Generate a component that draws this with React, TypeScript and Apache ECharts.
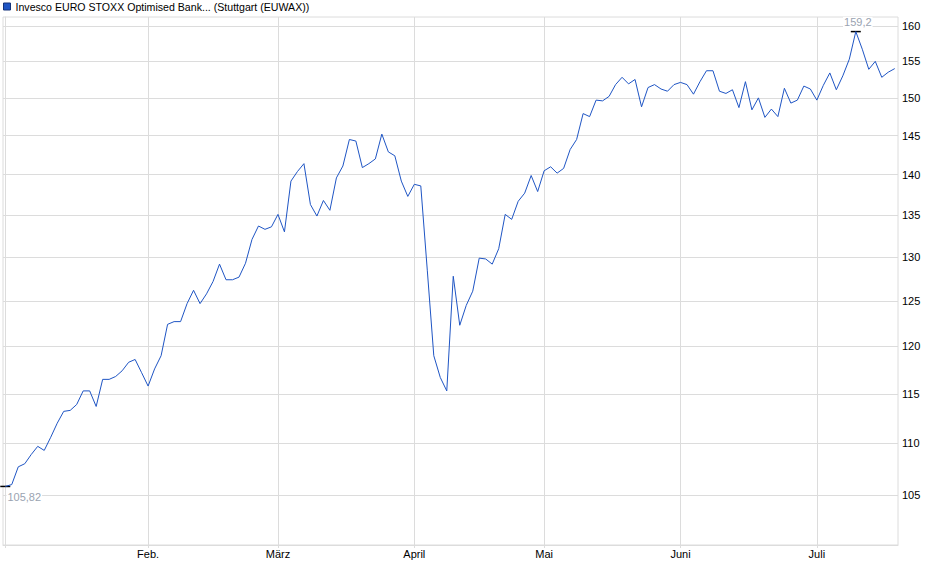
import { useEffect, useRef } from 'react'
import * as echarts from 'echarts'

// Daily closing prices per month (trading days)
const janValues = [105.82, 106.0, 107.7, 108.0, 108.9, 109.7, 109.3, 110.6, 112.0, 113.2, 113.3, 113.9, 115.3, 115.3, 113.7, 116.5, 116.5, 116.8, 117.4, 118.3, 118.6, 117.2]
const febValues = [115.8, 117.6, 119.0, 122.4, 122.7, 122.7, 124.7, 126.2, 124.7, 125.8, 127.2, 129.2, 127.4, 127.4, 127.7, 129.3, 132.1, 133.7, 133.3, 133.6]
const marValues = [135.1, 133.0, 139.2, 140.4, 141.4, 136.3, 134.9, 136.8, 135.6, 139.6, 141.1, 144.5, 144.3, 140.9, 141.4, 142.0, 145.2, 142.9, 142.4, 139.2, 137.3]
const aprValues = [138.8, 138.6, 128.5, 119.0, 116.7, 115.3, 127.8, 122.3, 124.5, 126.1, 129.9, 129.8, 129.2, 131.0, 135.1, 134.5, 136.7, 137.7, 139.9, 137.9]
const mayValues = [140.5, 141.0, 140.2, 140.8, 143.2, 144.5, 147.9, 147.5, 149.7, 149.6, 150.2, 151.8, 152.8, 151.9, 152.5, 148.8, 151.4, 151.8, 151.2, 150.9, 151.8]
const junValues = [152.1, 151.8, 150.5, 152.2, 153.7, 153.7, 150.9, 150.6, 151.1, 148.7, 152.2, 148.4, 150.0, 147.4, 148.5, 147.5, 151.3, 149.3, 149.7, 151.6, 151.2]
const julValues = [149.7, 151.7, 153.4, 151.1, 153.0, 155.3, 159.2, 156.7, 153.9, 155.0, 152.8, 153.5, 154.0]

const months = [janValues, febValues, marValues, aprValues, mayValues, junValues, julValues]
const monthNames = ['Jan.', 'Feb.', 'März', 'April', 'Mai', 'Juni', 'Juli']
const yTicks = [105, 110, 115, 120, 125, 130, 135, 140, 145, 150, 155, 160]

const seriesName = 'Invesco EURO STOXX Optimised Bank... (Stuttgart (EUWAX))'
const FONT = "'Liberation Sans', Arial, sans-serif"
const GRID = '#dcdcdc'

export default function App() {
  const ref = useRef<HTMLDivElement>(null)

  useEffect(() => {
    if (!ref.current) return
    const chart = echarts.init(ref.current, undefined, { renderer: 'svg' })

    const values = months.flat()
    const monthStarts: number[] = []
    let n = 0
    for (const m of months) { monthStarts.push(n); n += m.length }
    const data = values.map((v, i) => [i, v])
    const fmt = (v: number) => String(v).replace('.', ',')

    chart.setOption({
      animation: false,
      textStyle: { fontFamily: FONT },
      legend: {
        data: [seriesName],
        left: 3, top: 0, padding: 0,
        icon: 'rect', itemWidth: 7, itemHeight: 7,
        itemStyle: { borderColor: '#14337a', borderWidth: 1 },
        textStyle: { fontSize: 10.6, color: '#000', fontFamily: FONT, lineHeight: 13 },
        selectedMode: false,
      },
      grid: {
        left: 3, right: 42, top: 17, bottom: 34,
        show: true, borderColor: GRID, borderWidth: 1,
      },
      xAxis: {
        type: 'value',
        min: -0.35, max: values.length - 0.5,
        axisLine: { show: true, lineStyle: { color: GRID } },
        axisTick: { show: true, length: 3, lineStyle: { color: GRID }, customValues: monthStarts },
        axisLabel: {
          customValues: monthStarts.slice(1),
          formatter: (v: number) => monthNames[monthStarts.indexOf(v)] ?? '',
          color: '#000', fontSize: 11, margin: 3, fontFamily: FONT,
        },
        splitLine: { show: true, lineStyle: { color: GRID, width: 1 } },
      },
      yAxis: {
        type: 'log',
        position: 'right',
        min: 100.4, max: 161.3,
        axisLine: { show: true, lineStyle: { color: GRID } },
        axisTick: { show: false },
        axisLabel: { show: false },
        splitLine: { show: false },
      },
      series: [
        {
          type: 'line',
          name: 'grid',
          data,
          showSymbol: false,
          silent: true,
          lineStyle: { opacity: 0 },
          markLine: {
            silent: true,
            symbol: ['none', 'none'],
            lineStyle: { color: GRID, type: 'solid', width: 1 },
            label: { show: true, position: 'end', distance: 4, color: '#000', fontSize: 11, fontFamily: FONT },
            data: yTicks.map(v => ({ yAxis: v, label: { formatter: String(v) } })),
          },
        },
        {
          type: 'line',
          name: seriesName,
          data,
          z: 10,
          showSymbol: false,
          color: '#1f55c4',
          lineStyle: { color: '#1f55c4', width: 1 },
          markPoint: {
            symbol: 'rect',
            symbolSize: [10, 1.5],
            itemStyle: { color: '#000' },
            data: [
              {
                type: 'max', valueDim: 'y',
                label: {
                  position: 'top', distance: 3, offset: [2, 0],
                  formatter: (p: { value: number }) => fmt(p.value),
                  color: '#9aa3b1', fontSize: 11, backgroundColor: '#fff', padding: [0, 1],
                },
              },
              {
                type: 'min', valueDim: 'y',
                label: {
                  position: 'bottom', distance: 4, offset: [19, 0],
                  formatter: (p: { value: number }) => fmt(p.value),
                  color: '#9aa3b1', fontSize: 11, backgroundColor: '#fff', padding: [0, 1],
                },
              },
            ],
          },
        },
      ],
    })

    return () => chart.dispose()
  }, [])

  return <div ref={ref} style={{ position: 'absolute', left: 0, top: 0, width: 940, height: 579 }} />
}
